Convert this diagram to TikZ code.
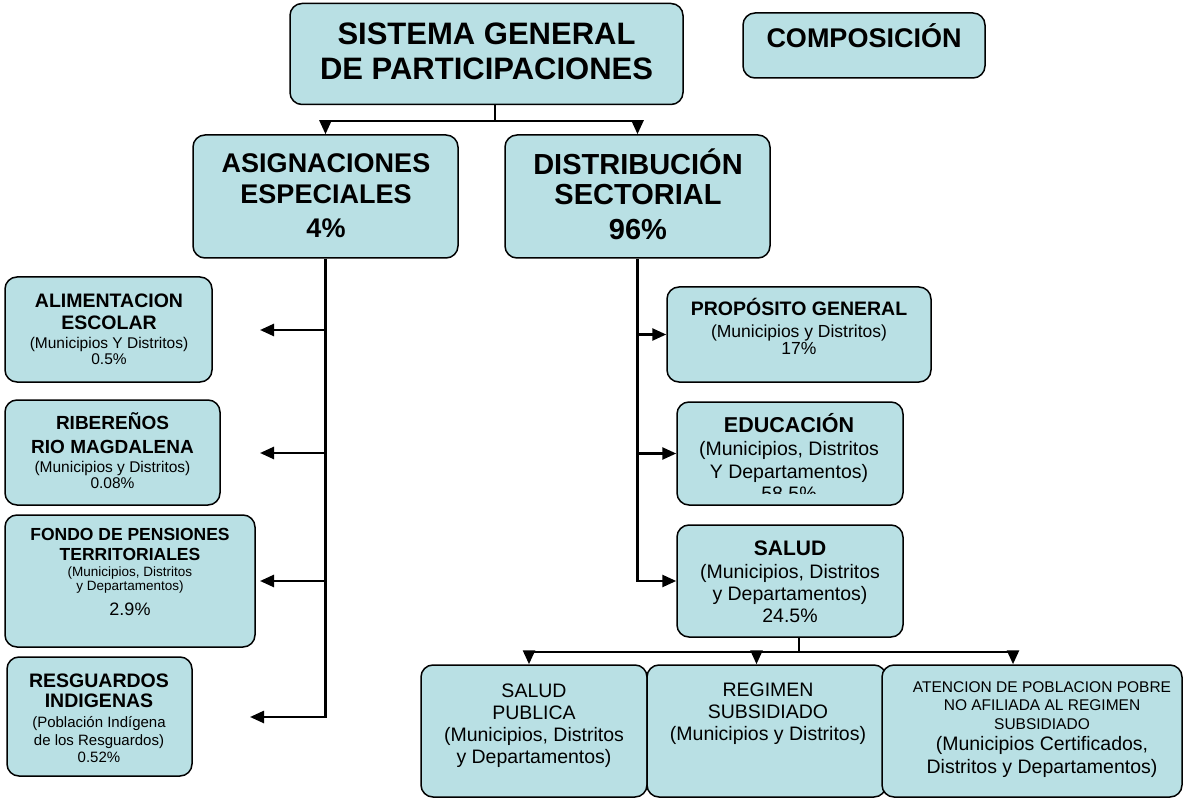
\documentclass[tikz,border=0pt]{standalone}
\usepackage{fontspec}
\setmainfont{Liberation Sans}
\usetikzlibrary{arrows.meta}
\definecolor{cajas}{RGB}{185,224,228}
\newcommand{\fsz}[2]{\fontsize{#1}{#2}\selectfont}

\begin{document}
\begin{tikzpicture}[x=1pt,y=-1pt]
\tikzset{
  box/.style={draw=black, line width=1.5pt, fill=cajas, rounded corners=12pt, inner sep=0pt},
  txt/.style={anchor=base, align=center, inner sep=0pt},
  conn/.style={line width=2.5pt},
  arr/.style={conn, -{Triangle[length=14pt,width=12pt]}}
}
\useasboundingbox (0,0) rectangle (1183,799);
\node[box, minimum width=393, minimum height=101] (sgp) at (486.5,54) {};
\node[box, minimum width=242, minimum height=65] (comp) at (864,45.5) {};
\node[box, minimum width=265, minimum height=123] (asig) at (325.5,196.5) {};
\node[box, minimum width=265, minimum height=123] (dist) at (637.5,196.5) {};
\node[box, minimum width=207, minimum height=105] (alim) at (108.5,329.5) {};
\node[box, minimum width=215, minimum height=105] (rib) at (112.5,452.5) {};
\node[box, minimum width=250, minimum height=132] (fondo) at (130,581) {};
\node[box, minimum width=185, minimum height=119] (resg) at (99.5,716.5) {};
\node[box, minimum width=264, minimum height=95] (prop) at (799,334.5) {};
\node[box, minimum width=226, minimum height=103] (edu) at (790,453.5) {};
\node[box, minimum width=226, minimum height=112] (salud) at (790,581) {};
\node[box, minimum width=226, minimum height=132] (spub) at (534,731) {};
\node[box, minimum width=239, minimum height=132] (reg) at (766.5,731) {};
\node[box, minimum width=300, minimum height=132] (aten) at (1032,731) {};

\node[txt, font=\bfseries\fsz{31}{35}] (sgptxt) at (486.5,80) {SISTEMA GENERAL\\DE PARTICIPACIONES};
\node[txt, font=\bfseries\fsz{27}{31}] (comptxt) at (864,48) {COMPOSICIÓN};
\node[txt, font=\bfseries\fsz{27}{31}] (asigtxt) at (326,238) {ASIGNACIONES\\ESPECIALES\\[3pt]4\%};
\node[txt, font=\bfseries\fsz{29}{30}] (disttxt) at (638,240) {DISTRIBUCIÓN\\SECTORIAL\\[5pt]96\%};
\node[txt, font=\fsz{15.5}{17}] (alimtxt) at (109,365) {{\bfseries\fsz{19.5}{17}ALIMENTACION}\\[6pt]{\bfseries\fsz{19.5}{17}ESCOLAR}\\[1pt](Municipios Y Distritos)\\0.5\%};
\node[txt, font=\fsz{15.5}{16}] (ribtxt) at (112.5,488) {{\bfseries\fsz{19}{16}RIBEREÑOS}\\[8pt]{\bfseries\fsz{19}{16}RIO MAGDALENA}\\[3pt](Municipios y Distritos)\\0.08\%};
\node[txt, font=\fsz{13.5}{14}] (fondotxt) at (130,615) {{\bfseries\fsz{17.5}{14}FONDO DE PENSIONES}\\[6pt]{\bfseries\fsz{17.5}{14}TERRITORIALES}\\[2pt](Municipios, Distritos\\y Departamentos)\\[8pt]{\fsz{18}{14}2.9\%}};
\node[txt, font=\fsz{15}{17}] (resgtxt) at (99,762) {{\bfseries\fsz{19.5}{17}RESGUARDOS}\\[3pt]{\bfseries\fsz{19.5}{17}INDIGENAS}\\[3pt](Población Indígena\\[1pt]de los Resguardos)\\0.52\%};
\node[txt, font=\fsz{17.5}{17}] (proptxt) at (799,355) {{\bfseries\fsz{19.5}{17}PROPÓSITO GENERAL}\\[5pt](Municipios y Distritos)\\17\%};
\begin{scope}
\clip (edu.north west) rectangle ([yshift=12pt]edu.south east);
\node[txt, font=\fsz{19.5}{22}] (edutxt) at (789,500) {{\bfseries\fsz{21.5}{22}EDUCACIÓN}\\[1pt](Municipios, Distritos\\[1pt]Y Departamentos)\\58.5\%};
\end{scope}
\node[txt, font=\fsz{19.5}{22}] (saludtxt) at (790,622) {{\bfseries\fsz{21}{22}SALUD}\\[1pt](Municipios, Distritos\\y Departamentos)\\24.5\%};
\node[txt, font=\fsz{19.5}{22}] (spubtxt) at (534,763) {SALUD\\PUBLICA\\(Municipios, Distritos\\y Departamentos)};
\node[txt, font=\fsz{19.5}{22}] (regtxt) at (768,740) {REGIMEN\\SUBSIDIADO\\(Municipios y Distritos)};
\node[txt, font=\fsz{15.5}{19}] (atentxt) at (1042,773) {ATENCION DE POBLACION POBRE\\[-1pt]NO AFILIADA AL REGIMEN\\SUBSIDIADO\\[2pt]{\fsz{19.5}{19}(Municipios Certificados,}\\[4pt]{\fsz{19.5}{19}Distritos y Departamentos)}};

\coordinate (sgpj) at (495,121);
\coordinate (saludj) at (799,652);
\coordinate (alimtip) at (260,330);
\coordinate (ribtip) at (260,453);
\coordinate (fondotip) at (260,581);
\coordinate (resgtip) at (250,717);

\draw[conn] (sgp.south -| sgpj) -- (sgpj);
\draw[arr] (sgpj) -| (asig.north);
\draw[arr] (sgpj) -| (dist.north);
\draw[arr] (asig.south) |- (resgtip);
\draw[arr] (asig.south |- alimtip) -- (alimtip);
\draw[arr] (asig.south |- ribtip) -- (ribtip);
\draw[arr] (asig.south |- fondotip) -- (fondotip);
\draw[arr] (dist.south) |- (salud.west);
\draw[arr] (dist.south |- prop.west) -- (prop.west);
\draw[arr] (dist.south |- edu.west) -- (edu.west);
\draw[conn] (salud.south -| saludj) -- (saludj);
\draw[arr] (saludj) -| ([xshift=-5pt]spub.north);
\draw[arr] (saludj) -| ([xshift=-10pt]reg.north);
\draw[arr] (saludj) -| ([xshift=-19pt]aten.north);
\end{tikzpicture}
\end{document}
